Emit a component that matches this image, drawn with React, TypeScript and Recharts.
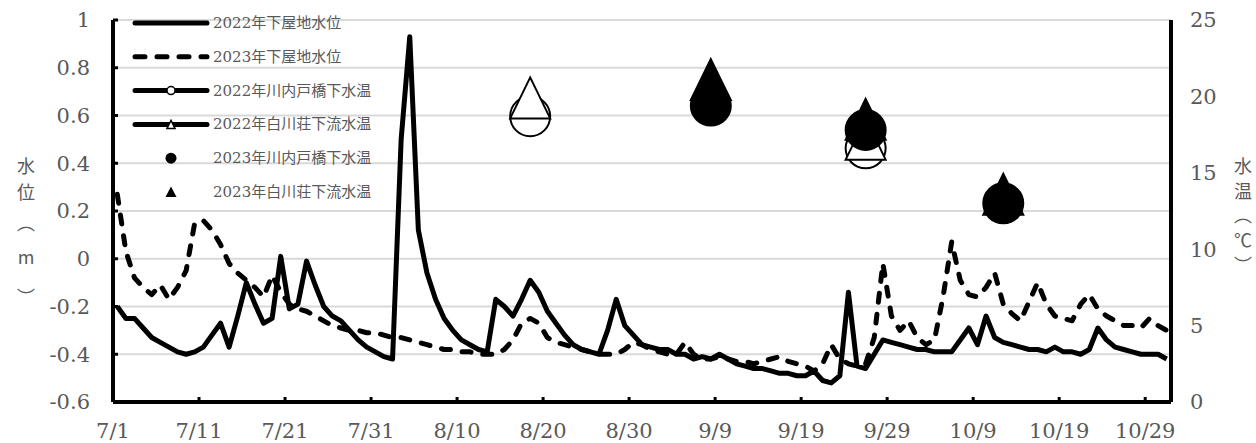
import React from "react";
import { ComposedChart, Line, XAxis, YAxis, CartesianGrid, Legend } from "recharts";

// x positions are day indexes from 7/1 (0) to 10/31 (122)
const X_TICKS = [-0.5, 9.5, 19.5, 29.5, 39.5, 49.5, 59.5, 69.5, 79.5, 89.5, 99.5, 109.5, 119.5];
const X_TICK_LABELS = ["7/1", "7/11", "7/21", "7/31", "8/10", "8/20", "8/30", "9/9", "9/19", "9/29", "10/9", "10/19", "10/29"];
const LEVEL_TICKS = [-0.6, -0.4, -0.2, 0, 0.2, 0.4, 0.6, 0.8, 1];
const TEMP_TICKS = [0, 5, 10, 15, 20, 25];

const SERIES_NAMES = [
  "2022年下屋地水位",
  "2023年下屋地水位",
  "2022年川内戸橋下水温",
  "2022年白川荘下流水温",
  "2023年川内戸橋下水温",
  "2023年白川荘下流水温",
];

// 2022 water level (m), one value per day from 7/1
const LEVEL_2022 = [
  -0.2, -0.25, -0.25, -0.29, -0.33, -0.35, -0.37, -0.39, -0.4, -0.39,
  -0.37, -0.32, -0.27, -0.37, -0.24, -0.1, -0.19, -0.27, -0.25, 0.01,
  -0.21, -0.19, -0.01, -0.11, -0.2, -0.24, -0.26, -0.3, -0.34, -0.37,
  -0.39, -0.41, -0.42, 0.5, 0.93, 0.12, -0.06, -0.17, -0.25, -0.3,
  -0.34, -0.36, -0.38, -0.39, -0.17, -0.2, -0.24, -0.17, -0.09, -0.14,
  -0.22, -0.27, -0.32, -0.36, -0.38, -0.39, -0.4, -0.3, -0.17, -0.28,
  -0.32, -0.36, -0.37, -0.38, -0.38, -0.4, -0.4, -0.42, -0.41, -0.42,
  -0.4, -0.42, -0.44, -0.45, -0.46, -0.46, -0.47, -0.48, -0.48, -0.49,
  -0.49, -0.47, -0.51, -0.52, -0.49, -0.14, -0.45, -0.46, -0.4, -0.34,
  -0.35, -0.36, -0.37, -0.38, -0.38, -0.39, -0.39, -0.39, -0.34, -0.29,
  -0.36, -0.24, -0.33, -0.35, -0.36, -0.37, -0.38, -0.38, -0.39, -0.37,
  -0.39, -0.39, -0.4, -0.38, -0.29, -0.34, -0.37, -0.38, -0.39, -0.4,
  -0.4, -0.4, -0.42,
];

// 2023 water level (m), one value per day from 7/1
const LEVEL_2023 = [
  0.27, 0.03, -0.08, -0.12, -0.15, -0.11, -0.17, -0.12, -0.05, 0.15,
  0.16, 0.12, 0.06, -0.02, -0.06, -0.09, -0.12, -0.16, -0.07, -0.14,
  -0.19, -0.21, -0.22, -0.24, -0.26, -0.28, -0.29, -0.3, -0.3, -0.31,
  -0.31, -0.32, -0.33, -0.33, -0.34, -0.35, -0.36, -0.37, -0.38, -0.38,
  -0.39, -0.39, -0.4, -0.4, -0.4, -0.38, -0.34, -0.27, -0.25, -0.27,
  -0.33, -0.35, -0.36, -0.37, -0.38, -0.39, -0.4, -0.4, -0.4, -0.38,
  -0.35, -0.36, -0.38, -0.39, -0.4, -0.4, -0.35, -0.4, -0.42, -0.42,
  -0.41, -0.42, -0.43, -0.43, -0.44, -0.43, -0.42, -0.41, -0.43, -0.44,
  -0.45, -0.47, -0.44, -0.36, -0.42, -0.44, -0.45, -0.44, -0.33, -0.02,
  -0.24, -0.3, -0.26, -0.33, -0.36, -0.34, -0.16, 0.07, -0.09, -0.15,
  -0.16, -0.12, -0.06, -0.19, -0.23, -0.26, -0.18, -0.1, -0.19, -0.24,
  -0.25, -0.26, -0.19, -0.15, -0.21, -0.24, -0.26, -0.28, -0.28, -0.29,
  -0.25, -0.28, -0.3,
];

// water temperature (℃) samples
const TEMP_KAWAUCHI_2022 = [{ day: 48, temp: 18.7 }, { day: 87, temp: 16.6 }];
const TEMP_SHIRAKAWA_2022 = [{ day: 48, temp: 19.9 }, { day: 87, temp: 17.2 }];
const TEMP_KAWAUCHI_2023 = [{ day: 69, temp: 19.4 }, { day: 87, temp: 17.8 }, { day: 103, temp: 13.0 }];
const TEMP_SHIRAKAWA_2023 = [{ day: 69, temp: 21.1 }, { day: 87, temp: 18.5 }, { day: 103, temp: 13.6 }];

const tempOn = (list: { day: number; temp: number }[], day: number) => {
  const hit = list.find((d) => d.day === day);
  return hit ? hit.temp : null;
};

const rows = LEVEL_2022.map((v, day) => ({
  day,
  lv2022: v,
  lv2023: LEVEL_2023[day],
  tk2022: tempOn(TEMP_KAWAUCHI_2022, day),
  ts2022: tempOn(TEMP_SHIRAKAWA_2022, day),
  tk2023: tempOn(TEMP_KAWAUCHI_2023, day),
  ts2023: tempOn(TEMP_SHIRAKAWA_2023, day),
}));

const GRAY = "#595959";
const SERIF = "DejaVu Serif, Liberation Serif, serif";
const TICK_FONT = { fill: GRAY, fontSize: 21, fontFamily: SERIF, style: { fontFamily: SERIF } };

function makeDot(shape: "circle" | "triangle", filled: boolean) {
  return (props: any) => {
    const { cx, cy, value, index } = props;
    if (value == null || cx == null || cy == null) return <g key={`d-${index}`} />;
    const fill = filled ? "#000" : "#fff";
    if (shape === "circle") {
      return <circle key={`d-${index}`} cx={cx} cy={cy} r={20} fill={fill} stroke="#000" strokeWidth={2} />;
    }
    const h = 20.5, w = 20;
    return (
      <polygon key={`d-${index}`}
        points={`${cx},${cy - h} ${cx + w},${cy + h} ${cx - w},${cy + h}`}
        fill={fill} stroke="#000" strokeWidth={2} strokeLinejoin="miter" />
    );
  };
}

function LegendContent() {
  const x0 = 135, x1 = 207, mx = 171, tx = 213;
  return (
    <svg width={420} height={215} style={{ display: "block", overflow: "visible" }}>
      {SERIES_NAMES.map((name, i) => {
        const y = 23 + i * 33.8;
        let sample: React.ReactNode = null;
        if (i === 0 || i === 2 || i === 3) {
          sample = <line x1={x0} y1={y} x2={x1} y2={y} stroke="#000" strokeWidth={5} strokeLinecap="round" />;
        } else if (i === 1) {
          sample = <line x1={x0} y1={y} x2={x1} y2={y} stroke="#000" strokeWidth={5} strokeLinecap="round" strokeDasharray="10 12" />;
        }
        let marker: React.ReactNode = null;
        if (i === 2) marker = <circle cx={mx} cy={y} r={4} fill="#fff" stroke="#000" strokeWidth={1.5} />;
        if (i === 3) marker = <polygon points={`${mx},${y - 4} ${mx + 4},${y + 4} ${mx - 4},${y + 4}`} fill="#fff" stroke="#000" strokeWidth={1.5} />;
        if (i === 4) marker = <circle cx={mx} cy={y} r={5.5} fill="#000" />;
        if (i === 5) marker = <polygon points={`${mx},${y - 5.5} ${mx + 5.5},${y + 5} ${mx - 5.5},${y + 5}`} fill="#000" />;
        return (
          <g key={name}>
            {sample}
            {marker}
            <text x={tx} y={y} dominantBaseline="central" fill={GRAY} fontSize={15}
              style={{ fontFamily: "DejaVu Serif, Liberation Serif, Noto Sans CJK JP, serif" }}>{name}</text>
          </g>
        );
      })}
    </svg>
  );
}

const TITLE_FONT = "Noto Sans CJK JP, sans-serif";

export default function App() {
  return (
    <div style={{ position: "absolute", left: 0, top: 0, width: 1256, height: 443, background: "#fff" }}>
      <ComposedChart width={1256} height={443} data={rows} margin={{ top: 20, right: 0, bottom: 0, left: 0 }}>
        <CartesianGrid yAxisId="lv" horizontal vertical={false} stroke="#d9d9d9" strokeWidth={2} />
        <XAxis dataKey="day" type="number" domain={[-0.5, 122.5]} ticks={X_TICKS} interval={0} height={41}
          tickFormatter={(v: number) => X_TICK_LABELS[Math.round((v + 0.5) / 10)]}
          tick={TICK_FONT} tickSize={-5} tickMargin={26}
          tickLine={{ stroke: "#000", strokeWidth: 3 }} axisLine={{ stroke: "#000", strokeWidth: 4 }} />
        <YAxis yAxisId="lv" width={113} domain={[-0.6, 1]} ticks={LEVEL_TICKS} interval={0}
          tickFormatter={(v: number) => String(v)}
          tick={TICK_FONT} tickSize={-5} tickMargin={28}
          tickLine={{ stroke: "#000", strokeWidth: 3 }} axisLine={{ stroke: "#000", strokeWidth: 4 }} />
        <YAxis yAxisId="tp" orientation="right" width={85} domain={[0, 25]} ticks={TEMP_TICKS} interval={0}
          tick={TICK_FONT} tickLine={false} tickSize={0} tickMargin={19}
          axisLine={{ stroke: "#000", strokeWidth: 4 }} />
        <Legend layout="horizontal" verticalAlign="middle" align="center"
          wrapperStyle={{ left: 0, top: 0, width: 420, height: 215 }}
          content={() => <LegendContent />} />
        <Line yAxisId="lv" dataKey="lv2022" name={SERIES_NAMES[0]} type="linear" stroke="#000" strokeWidth={5}
          strokeLinejoin="round" dot={false} activeDot={false} isAnimationActive={false} />
        <Line yAxisId="lv" dataKey="lv2023" name={SERIES_NAMES[1]} type="linear" stroke="#000" strokeWidth={5}
          strokeLinecap="round" strokeLinejoin="round" strokeDasharray="9 12" dot={false} activeDot={false} isAnimationActive={false} />
        <Line yAxisId="tp" dataKey="tk2022" name={SERIES_NAMES[2]} stroke="none" dot={makeDot("circle", false)}
          activeDot={false} isAnimationActive={false} />
        <Line yAxisId="tp" dataKey="ts2022" name={SERIES_NAMES[3]} stroke="none" dot={makeDot("triangle", false)}
          activeDot={false} isAnimationActive={false} />
        <Line yAxisId="tp" dataKey="tk2023" name={SERIES_NAMES[4]} stroke="none" dot={makeDot("circle", true)}
          activeDot={false} isAnimationActive={false} />
        <Line yAxisId="tp" dataKey="ts2023" name={SERIES_NAMES[5]} stroke="none" dot={makeDot("triangle", true)}
          activeDot={false} isAnimationActive={false} />
      </ComposedChart>
      <svg width={1256} height={443} style={{ position: "absolute", left: 0, top: 0, pointerEvents: "none" }}>
        <g fill={GRAY} fontSize={18} style={{ fontFamily: TITLE_FONT }} textAnchor="middle" dominantBaseline="central">
          <text x={26} y={165}>水</text>
          <text x={26} y={191}>位</text>
          <text x={26} y={222}>︵</text>
          <text x={26} y={256}>m</text>
          <text x={26} y={296}>︶</text>
          <text x={1243} y={165}>水</text>
          <text x={1243} y={190}>温</text>
          <text x={1243} y={214}>︵</text>
          <text x={1243} y={239}>℃</text>
          <text x={1243} y={264}>︶</text>
        </g>
      </svg>
    </div>
  );
}
